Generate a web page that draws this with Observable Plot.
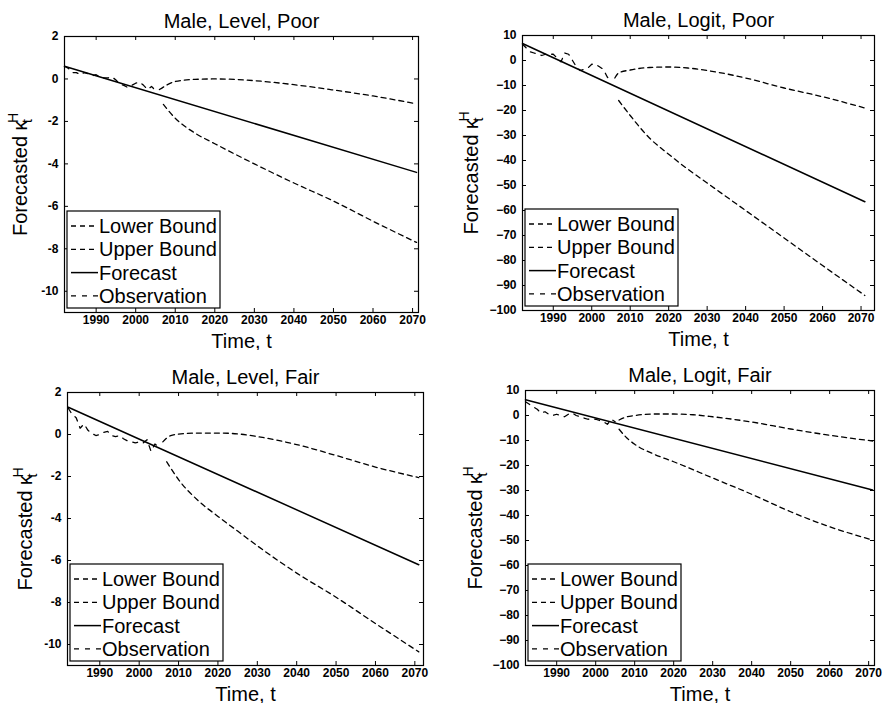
<!DOCTYPE html>
<html><head><meta charset="utf-8">
<script src="https://cdn.jsdelivr.net/npm/d3@7"></script>
<script src="https://cdn.jsdelivr.net/npm/@observablehq/plot@0.6"></script>
<style>
body{margin:0;background:#fff}
#wrap{position:relative;width:883px;height:703px;background:#fff}
.panel{position:absolute}
</style>
</head><body><div id="wrap"></div>
<script>
// ---------- data ----------
const panelTitles = ["Male, Level, Poor", "Male, Logit, Poor", "Male, Level, Fair", "Male, Logit, Fair"];
const legendLabels = ["Lower Bound", "Upper Bound", "Forecast", "Observation"];
const xLabel = "Time, t";
const yLabelMain = "Forecasted \u03ba";
const yLabelSub = "t";
const yLabelSup = "H";

const xTicks = [1990, 2000, 2010, 2020, 2030, 2040, 2050, 2060, 2070];
const yTicksLevel = [2, 0, -2, -4, -6, -8, -10];
const yTicksLogit = [10, 0, -10, -20, -30, -40, -50, -60, -70, -80, -90, -100];

const obsYears = [1982,1983,1984,1985,1986,1987,1988,1989,1990,1991,1992,1993,1994,1995,1996,1997,1998,1999,2000,2001,2002,2003,2004,2005];
const obsLevelPoor = [0.6,0.5,0.3,0.3,0.2,0.3,0.25,0.15,0.2,0.1,0.05,0.05,0.1,-0.05,-0.25,-0.3,-0.4,-0.3,-0.2,-0.15,-0.3,-0.5,-0.35,-0.55];
const obsLogitPoor = [6.5,5,3.5,3,2.5,2,2.5,2.5,2.5,1,-0.5,3,2.5,0,-2.5,-4,-3.5,-3,-1.5,-1.5,-2.5,-3.5,-6.5,-8.5];
const obsLevelFair = [1.25,0.95,0.8,0.3,0.5,0.2,0.05,-0.05,0,0.1,0.15,-0.05,-0.1,-0.05,-0.2,-0.3,-0.35,-0.4,-0.35,-0.4,-0.25,-0.8,-0.45,-0.6];
const obsLogitFair = [5.5,4.5,3.5,2.5,1,1.5,0.5,0,0.5,0,-0.5,0.5,1,0,-0.5,-1,-1.5,-1.2,-1.5,-2,-2.5,-3.5,-1.5,-2.5];

const forecastYears = [1982, 2071];
const forecastLevelPoor = [0.6, -4.4];
const forecastLogitPoor = [6.8, -56.5];
const forecastLevelFair = [1.3, -6.2];
const forecastLogitFair = [6.3, -29.8];

const upperYearsLevelPoor = [2006,2010,2015,2020,2025,2030,2040,2050,2060,2071];
const upperLevelPoor = [-0.5,-0.12,-0.02,0,-0.02,-0.08,-0.27,-0.52,-0.8,-1.17];
const lowerYearsLevelPoor = [2007,2010,2015,2020,2030,2040,2050,2060,2071];
const lowerLevelPoor = [-1.2,-1.85,-2.55,-3.05,-4.0,-4.9,-5.75,-6.7,-7.7];

const upperYearsLogitPoor = [2006,2007,2010,2015,2020,2025,2030,2040,2050,2060,2071];
const upperLogitPoor = [-7,-5,-3.8,-2.8,-2.6,-3,-4,-7,-11,-14.5,-19];
const lowerYearsLogitPoor = [2007,2010,2015,2020,2025,2030,2040,2050,2060,2071];
const lowerLogitPoor = [-16,-22,-31,-37.5,-43.5,-49,-60,-71,-82,-94];

const upperYearsLevelFair = [2006,2008,2010,2015,2020,2025,2030,2040,2050,2060,2071];
const upperLevelFair = [-0.35,-0.05,0.02,0.07,0.07,0.03,-0.1,-0.48,-1.0,-1.55,-2.05];
const lowerYearsLevelFair = [2007,2010,2015,2020,2025,2030,2040,2050,2060,2071];
const lowerLevelFair = [-1.3,-2.15,-3.15,-3.9,-4.6,-5.3,-6.6,-7.75,-9.0,-10.35];

const upperYearsLogitFair = [2006,2008,2010,2015,2020,2025,2030,2040,2050,2060,2071];
const upperLogitFair = [-1.8,-0.5,0,0.6,0.6,0.3,-0.5,-2.6,-5.4,-7.9,-10.2];
const lowerYearsLogitFair = [2006,2008,2010,2015,2020,2030,2040,2050,2060,2071];
const lowerLogitFair = [-5.5,-9,-11.5,-15.5,-18.5,-25,-31.5,-38.5,-44.5,-49.8];

// ---------- layout ----------
const zip = (xs, ys) => xs.map((x, i) => ({year: x, value: ys[i]}));
const FONT = "'Liberation Sans', Arial, Helvetica, sans-serif";

const panels = [
  {title: panelTitles[0], left: 0, top: 0, w: 441, h: 350, mL: 64, mR: 23, mT: 36, mB: 38,
   xDomain: [1982, 2071.5], yDomain: [-11, 2], yTicks: yTicksLevel, hyphen: true, yLabX: 27,
   obs: obsLevelPoor, fc: forecastLevelPoor, upY: upperYearsLevelPoor, up: upperLevelPoor, loY: lowerYearsLevelPoor, lo: lowerLevelPoor},
  {title: panelTitles[1], left: 441, top: 0, w: 442, h: 350, mL: 81, mR: 9, mT: 35, mB: 40,
   xDomain: [1982, 2073.5], yDomain: [-100, 10], yTicks: yTicksLogit, hyphen: false, yLabX: 37,
   obs: obsLogitPoor, fc: forecastLogitPoor, upY: upperYearsLogitPoor, up: upperLogitPoor, loY: lowerYearsLogitPoor, lo: lowerLogitPoor},
  {title: panelTitles[2], left: 0, top: 350, w: 441, h: 353, mL: 67, mR: 18, mT: 42, mB: 38,
   xDomain: [1981.8, 2072.2], yDomain: [-11, 2], yTicks: yTicksLevel, hyphen: true, yLabX: 32,
   obs: obsLevelFair, fc: forecastLevelFair, upY: upperYearsLevelFair, up: upperLevelFair, loY: lowerYearsLevelFair, lo: lowerLevelFair},
  {title: panelTitles[3], left: 441, top: 350, w: 442, h: 353, mL: 84, mR: 9, mT: 40, mB: 38,
   xDomain: [1982, 2071.5], yDomain: [-100, 10], yTicks: yTicksLogit, hyphen: false, yLabX: 41,
   obs: obsLogitFair, fc: forecastLogitFair, upY: upperYearsLogitFair, up: upperLogitFair, loY: lowerYearsLogitFair, lo: lowerLogitFair}
];

const dashBound = "5,4";
const dashObs = "5,6";
const wrap = document.getElementById("wrap");

for (const p of panels) {
  const fw = p.w - p.mL - p.mR;
  const fh = p.h - p.mT - p.mB;
  const yFmt = p.hyphen ? (d => (d < 0 ? "-" + Math.abs(d) : String(d))) : (d => (d < 0 ? "\u2212" + Math.abs(d) : String(d)));
  const svg = Plot.plot({
    width: p.w, height: p.h,
    marginLeft: p.mL, marginRight: p.mR, marginTop: p.mT, marginBottom: p.mB,
    style: {fontFamily: FONT, background: "white", color: "black", overflow: "visible"},
    x: {domain: p.xDomain},
    y: {domain: p.yDomain},
    marks: [
      Plot.axisX(xTicks, {anchor: "bottom", tickSize: 0, tickPadding: 3, fontSize: 12, fontWeight: "bold", label: null, tickFormat: d => String(d), fill: "black"}),
      Plot.axisY(p.yTicks, {anchor: "left", tickSize: 0, tickPadding: 6, fontSize: 12, fontWeight: "bold", label: null, tickFormat: yFmt, fill: "black"}),
      Plot.tickX(xTicks, {x: d => d, insetTop: fh - 4, stroke: "black"}),
      Plot.tickX(xTicks, {x: d => d, insetBottom: fh - 4, stroke: "black"}),
      Plot.tickY(p.yTicks, {y: d => d, insetRight: fw - 4, stroke: "black"}),
      Plot.tickY(p.yTicks, {y: d => d, insetLeft: fw - 4, stroke: "black"}),
      Plot.line(zip(obsYears, p.obs), {x: "year", y: "value", stroke: "black", strokeWidth: 1.3, strokeDasharray: dashObs}),
      Plot.line(zip(forecastYears, p.fc), {x: "year", y: "value", stroke: "black", strokeWidth: 1.5}),
      Plot.line(zip(p.upY, p.up), {x: "year", y: "value", stroke: "black", strokeWidth: 1.3, strokeDasharray: dashBound, curve: "monotone-x"}),
      Plot.line(zip(p.loY, p.lo), {x: "year", y: "value", stroke: "black", strokeWidth: 1.3, strokeDasharray: dashBound, curve: "monotone-x"}),
      Plot.frame({stroke: "black", strokeWidth: 1.2}),
      Plot.text([p.title], {text: d => d, frameAnchor: "top", dy: -9, lineAnchor: "bottom", fontSize: 20, fill: "black"}),
      Plot.text([xLabel], {text: d => d, frameAnchor: "bottom", dy: 35, lineAnchor: "bottom", fontSize: 20, fill: "black"})
    ]
  });
  svg.setAttribute("class", "panel");
  svg.style.left = p.left + "px";
  svg.style.top = p.top + "px";
  wrap.appendChild(svg);

  const s = d3.select(svg);
  // y axis label with stacked sub/superscript
  const cy = p.mT + fh / 2;
  const g = s.append("g").attr("transform", `translate(${p.yLabX},${cy}) rotate(-90)`)
    .attr("font-family", FONT).attr("fill", "black");
  g.append("text").attr("font-size", 20).attr("x", -62).attr("text-anchor", "start").text(yLabelMain);
  g.append("text").attr("font-size", 14).attr("x", 51).attr("y", 5).attr("text-anchor", "start").text(yLabelSub);
  g.append("text").attr("font-size", 14).attr("x", 51).attr("y", -9).attr("text-anchor", "start").text(yLabelSup);

  // legend box
  const lw = 153, lh = 97;
  const lx = p.mL + 3, ly = p.mT + fh - 4 - lh;
  const lg = s.append("g").attr("font-family", FONT).attr("text-anchor", "start");
  lg.append("rect").attr("x", lx).attr("y", ly).attr("width", lw).attr("height", lh)
    .attr("fill", "white").attr("stroke", "black").attr("stroke-width", 1.2);
  const dashes = [dashBound, dashBound, null, dashObs];
  legendLabels.forEach((lab, i) => {
    const by = ly + 22 + i * 23.3;
    lg.append("line").attr("x1", lx + 4).attr("x2", lx + 31).attr("y1", by - 7).attr("y2", by - 7)
      .attr("stroke", "black").attr("stroke-width", i === 2 ? 1.5 : 1.3)
      .attr("stroke-dasharray", dashes[i]);
    lg.append("text").attr("x", lx + 32).attr("y", by).attr("font-size", 20).attr("fill", "black")
      .attr("text-anchor", "start").text(lab);
  });
}
</script>
</body></html>
